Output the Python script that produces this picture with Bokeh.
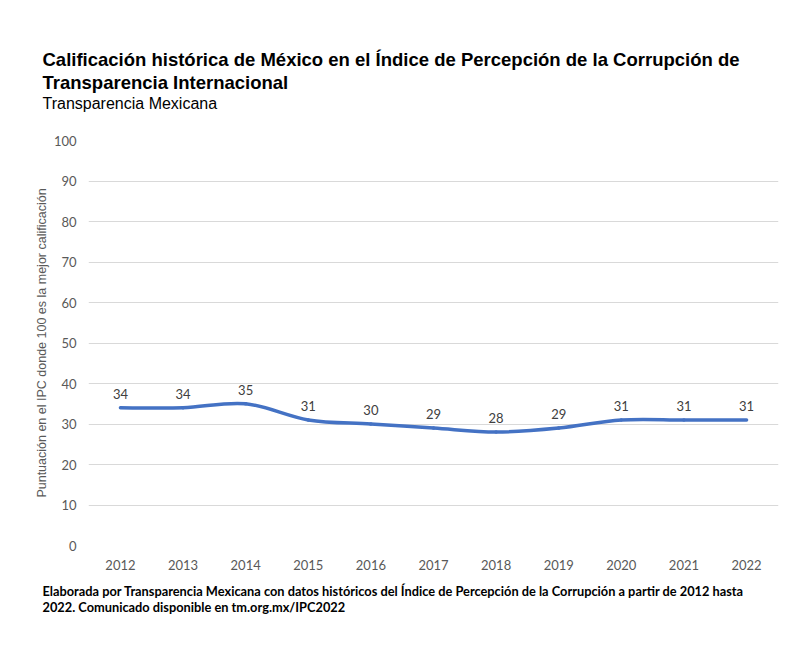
from bokeh.plotting import figure
from bokeh.models import FixedTicker, Range1d, ColumnDataSource, Title
from bokeh.core.properties import value
from bokeh.embed import file_html
from bokeh.resources import INLINE

years = [2012, 2013, 2014, 2015, 2016, 2017, 2018, 2019, 2020, 2021, 2022]
scores = [34, 34, 35, 31, 30, 29, 28, 29, 31, 31, 31]
y_ticks = [0, 10, 20, 30, 40, 50, 60, 70, 80, 90, 100]

title_1 = "Calificación histórica de México en el Índice de Percepción de la Corrupción de"
title_2 = "Transparencia Internacional"
subtitle = "Transparencia Mexicana"
y_label = "Puntuación en el IPC donde 100 es la mejor calificación"
foot_1 = "Elaborada por Transparencia Mexicana con datos históricos del Índice de Percepción de la Corrupción a partir de 2012 hasta"
foot_2 = "2022. Comunicado disponible en tm.org.mx/IPC2022"

W, H = 792, 642
FL, FR, FT, FB = 88, 778, 140, 545
p = figure(width=W, height=H, output_backend="svg", toolbar_location=None,
           x_range=Range1d(2011.49, 2022.51), y_range=Range1d(0, 100),
           min_border_left=FL, min_border_right=W - FR, min_border_top=FT, min_border_bottom=H - FB)
p.outline_line_color = None
p.background_fill_color = "white"
p.border_fill_color = "white"

p.xaxis.ticker = FixedTicker(ticks=years)
p.yaxis.ticker = FixedTicker(ticks=y_ticks)
for ax in (p.xaxis[0], p.yaxis[0]):
    ax.axis_line_color = None
    ax.major_tick_line_color = None
    ax.minor_tick_line_color = None
    ax.major_label_text_color = "#595959"
    ax.major_label_text_font = "Lato"
    ax.major_label_text_font_size = "13px"
p.xaxis.major_label_standoff = 8
p.yaxis.major_label_standoff = 6
p.yaxis.axis_label = y_label
p.yaxis.axis_label_text_font = "Liberation Sans"
p.yaxis.axis_label_text_font_style = "normal"
p.yaxis.axis_label_text_font_size = "12.5px"
p.yaxis.axis_label_text_color = "#595959"
p.yaxis.axis_label_standoff = 2
p.xgrid.grid_line_color = None
p.ygrid.grid_line_color = "#d9d9d9"
p.ygrid.grid_line_width = 1

# smoothed line as bezier segments (Catmull-Rom style control points, as Excel)
n = len(years)
x0, y0, x1, y1, cx0, cy0, cx1, cy1 = [], [], [], [], [], [], [], []
for i in range(n - 1):
    im1 = max(i - 1, 0)
    ip2 = min(i + 2, n - 1)
    x0.append(years[i]); y0.append(scores[i])
    x1.append(years[i + 1]); y1.append(scores[i + 1])
    cx0.append(years[i] + (years[i + 1] - years[im1]) / 6)
    cy0.append(scores[i] + (scores[i + 1] - scores[im1]) / 6)
    cx1.append(years[i + 1] - (years[ip2] - years[i]) / 6)
    cy1.append(scores[i + 1] - (scores[ip2] - scores[i]) / 6)
p.bezier(x0=x0, y0=y0, x1=x1, y1=y1, cx0=cx0, cy0=cy0, cx1=cx1, cy1=cy1,
         line_color="#4472C4", line_width=3.5, line_cap="round")

src = ColumnDataSource(dict(x=years, y=scores, t=[str(s) for s in scores]))
p.text(x="x", y="y", text="t", source=src, text_align="center", text_baseline="bottom",
       y_offset=-9, text_font=value("Lato"), text_font_size="13px", text_color="#404040")

def style(t, size, bold, font, standoff):
    t.align = "left"
    t.offset = 42 - FL
    t.text_font = font
    t.text_font_size = size
    t.text_font_style = "bold" if bold else "normal"
    t.text_color = "#000000"
    t.standoff = standoff
    t.vertical_align = "bottom"

# the figure's own title is the outermost one
p.title.text = title_1
style(p.title, "18.5px", True, "Liberation Sans", 0)
# added titles: first added sits nearest the frame
spacer = Title(text=" ")
style(spacer, "24px", False, "Liberation Sans", 0)
p.add_layout(spacer, "above")
for txt, size, bold in ((subtitle, "16px", False), (title_2, "18.5px", True)):
    t = Title(text=txt)
    style(t, size, bold, "Liberation Sans", 0)
    p.add_layout(t, "above")
spacer_b = Title(text=" ")
style(spacer_b, "5px", False, "Liberation Sans", 0)
p.add_layout(spacer_b, "below")
foot = Title(text=foot_1 + "\n" + foot_2)
style(foot, "12.8px", True, "Lato", 0)
p.add_layout(foot, "below")

open("out.html", "w").write(file_html(p, INLINE))
